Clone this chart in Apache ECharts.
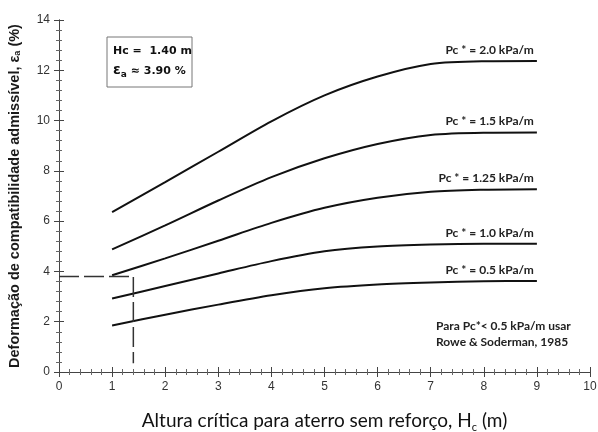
<!DOCTYPE html>
<html>
<head>
<meta charset="utf-8">
<script src="https://cdn.jsdelivr.net/npm/echarts@6/dist/echarts.min.js"></script>
<style>html,body{margin:0;padding:0;background:#fff;}#c{width:598px;height:432px;}</style>
</head>
<body>
<div id="c"></div>
<script>
// ---- data ----
const xs = [1, 2, 3, 4, 5, 6, 7, 8, 9];
const pc20 = [6.36, 7.55, 8.76, 9.97, 11.0, 11.75, 12.25, 12.36, 12.37];
const pc15 = [4.88, 5.83, 6.82, 7.75, 8.50, 9.07, 9.43, 9.52, 9.53];
const pc125 = [3.85, 4.52, 5.22, 5.93, 6.53, 6.93, 7.17, 7.25, 7.27];
const pc10 = [2.92, 3.42, 3.92, 4.41, 4.80, 4.99, 5.07, 5.10, 5.10];
const pc05 = [1.85, 2.28, 2.68, 3.05, 3.33, 3.48, 3.56, 3.61, 3.62];
const seriesNames = ['Pc * = 2.0 kPa/m', 'Pc * = 1.5 kPa/m', 'Pc * = 1.25 kPa/m', 'Pc * = 1.0 kPa/m', 'Pc * = 0.5 kPa/m'];
const guideX = [0, 1.4, 1.4];
const guideY = [3.8, 3.8, 0.35];

const chart = echarts.init(document.getElementById('c'));
const curves = [pc20, pc15, pc125, pc10, pc05];
const lineSeries = curves.map((vals, i) => ({
  type: 'line',
  name: seriesNames[i],
  data: xs.map((x, j) => [x, vals[j]]),
  smooth: 0.3,
  symbol: 'none',
  lineStyle: { color: '#111', width: 2 },
  markPoint: {
    symbol: 'circle', symbolSize: 0,
    data: [{ coord: [xs[xs.length - 1], vals[vals.length - 1]] }],
    label: {
      show: true, position: 'left', offset: [0, -11], distance: 3,
      formatter: seriesNames[i],
      fontFamily: 'Lato', fontWeight: 'bold', fontSize: 12, color: '#222'
    }
  }
}));

const axisCommon = {
  axisLine: { lineStyle: { color: '#444', width: 1 } },
  axisTick: { inside: true, length: 5, lineStyle: { color: '#444' } },
  minorTick: { show: true, splitNumber: 5, length: 3, lineStyle: { color: '#666' } },
  splitLine: { show: false }
};

const option = {
  animation: false,
  backgroundColor: '#fff',
  grid: { left: 59, right: 8, top: 20, bottom: 60, containLabel: false, outerBoundsMode: 'none' },
  xAxis: [
    Object.assign({
      type: 'value', min: 0, max: 10, interval: 1, position: 'bottom',
      axisLabel: { color: '#333', fontFamily: 'Liberation Sans', fontSize: 12, margin: 9 },
      name: '{t|Altura crítica para aterro sem reforço, H}{s|c}{t| (m)}',
      nameLocation: 'middle', nameGap: 36,
      nameTextStyle: {
        rich: {
          t: { fontFamily: 'Lato', fontSize: 19, color: '#111', lineHeight: 22, verticalAlign: 'bottom' },
          s: { fontFamily: 'Lato', fontSize: 11, color: '#111', lineHeight: 22, verticalAlign: 'bottom', padding: [0, 0, -3, 0] }
        }
      }
    }, axisCommon),
    Object.assign({
      type: 'value', min: 0, max: 10, interval: 1, position: 'top',
      axisLabel: { show: false }
    }, axisCommon)
  ],
  yAxis: [
    Object.assign({
      type: 'value', min: 0, max: 14, interval: 2, position: 'left',
      axisLabel: { color: '#333', fontFamily: 'Liberation Sans', fontSize: 12, margin: 9 },
      name: '{t|Deformação de compatibilidade admissível, ε}{s|a}{t| (%)}',
      nameLocation: 'middle', nameGap: 37, nameRotate: 90,
      nameTextStyle: {
        rich: {
          t: { fontFamily: 'Liberation Sans', fontWeight: 'bold', fontSize: 14.5, color: '#1a1a1a', lineHeight: 18, verticalAlign: 'bottom' },
          s: { fontFamily: 'Liberation Sans', fontWeight: 'bold', fontSize: 9, color: '#1a1a1a', lineHeight: 18, verticalAlign: 'bottom' }
        }
      }
    }, axisCommon),
    Object.assign({
      type: 'value', min: 0, max: 14, interval: 2, position: 'right',
      axisLabel: { show: false }
    }, axisCommon)
  ],
  series: lineSeries.concat([{
    type: 'line',
    data: guideX.map((x, j) => [x, guideY[j]]),
    symbol: 'none',
    lineStyle: { color: '#333', width: 1.5, type: [20, 5] }
  }]),
  graphic: [
    { type: 'rect', shape: { x: 107, y: 37, width: 85, height: 50 }, style: { fill: '#fff', stroke: '#777', lineWidth: 1 } },
    { type: 'text', left: 113, top: 46, style: { text: 'Hc =  1.40 m', font: 'bold 11px "DejaVu Sans"', fill: '#111' } },
    { type: 'text', left: 113, top: 63, style: {
        text: '{e|ε}{s|a}{t| ≈ 3.90 %}',
        rich: {
          e: { font: 'bold 14px "DejaVu Sans"', fill: '#111', lineHeight: 18, verticalAlign: 'bottom' },
          s: { font: 'bold 9px "DejaVu Sans"', fill: '#111', lineHeight: 18, verticalAlign: 'bottom', padding: [0, 0, -2, 0] },
          t: { font: 'bold 11px "DejaVu Sans"', fill: '#111', lineHeight: 18, verticalAlign: 'bottom' }
        }
    } },
    { type: 'text', left: 436, top: 318, style: {
        text: 'Para Pc*< 0.5 kPa/m usar\nRowe & Soderman, 1985',
        font: 'bold 12px Lato', fill: '#222', lineHeight: 16
    } }
  ]
};
chart.setOption(option);
</script>
</body>
</html>
